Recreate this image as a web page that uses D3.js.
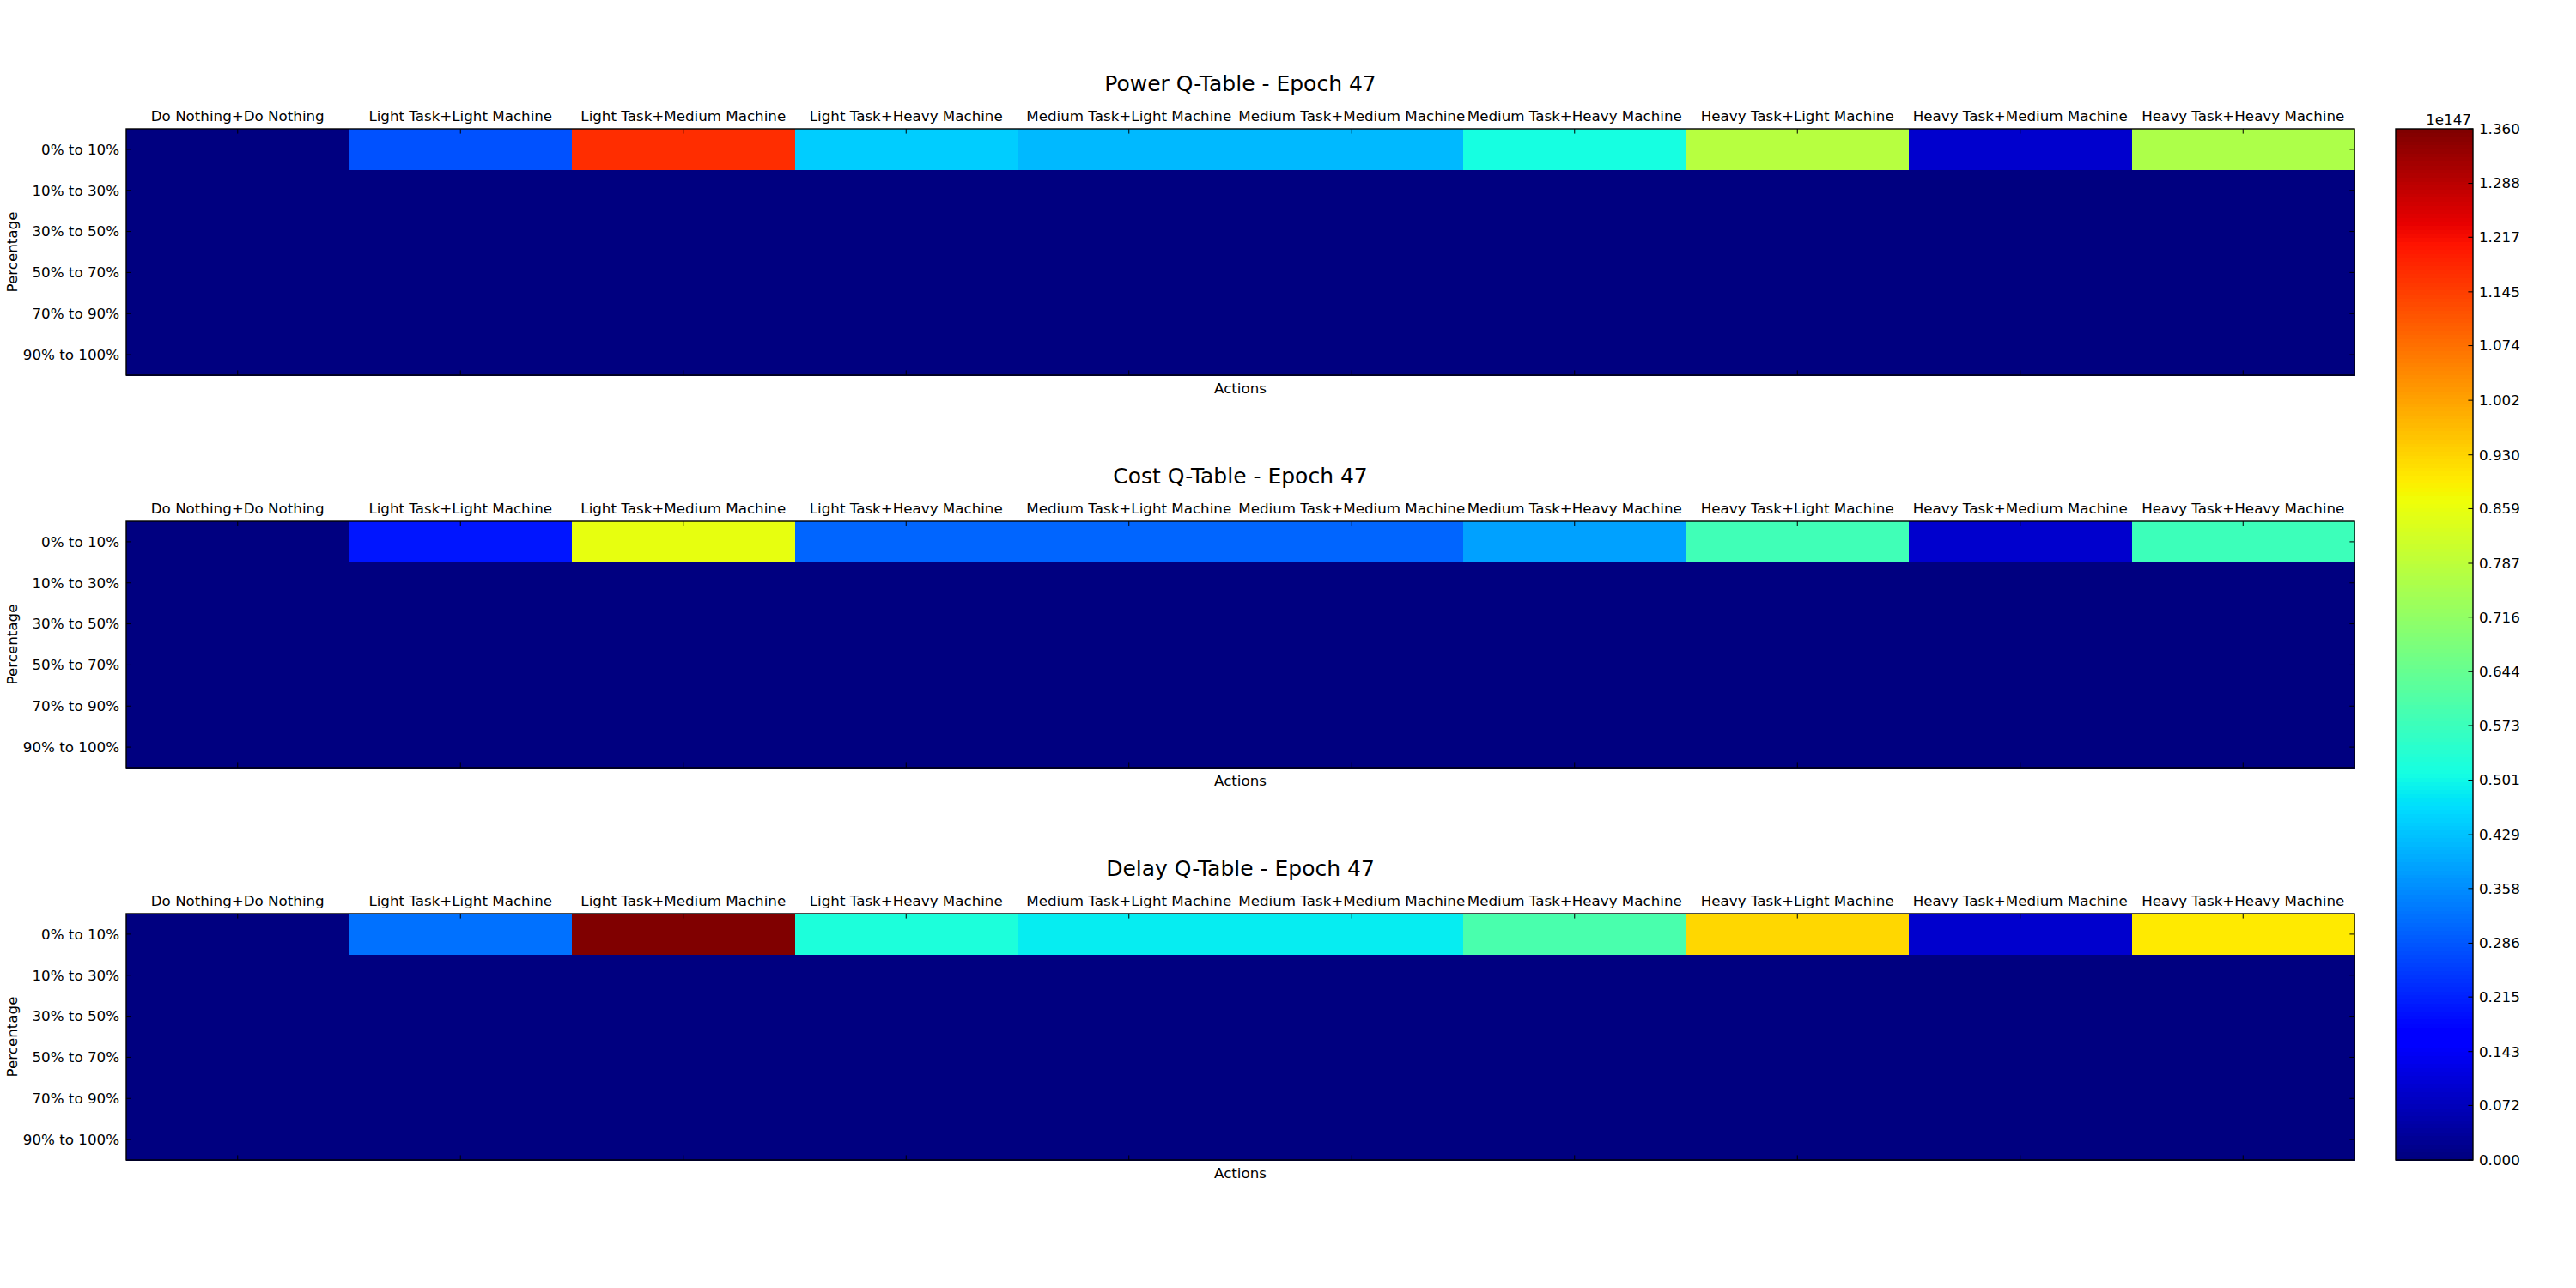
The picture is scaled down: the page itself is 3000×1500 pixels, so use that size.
<!DOCTYPE html>
<html>
<head>
<meta charset="utf-8">
<script src="https://cdn.jsdelivr.net/npm/d3@7"></script>
<style>
  html, body { margin: 0; padding: 0; background: #fff; }
  svg { display: block; font-family: "DejaVu Sans", sans-serif; }
</style>
</head>
<body>
<svg id="chart" width="3000" height="1500"></svg>
<script>
// ---------------- DATA (values in units of 1e147) ----------------
const actions = [
  "Do Nothing+Do Nothing", "Light Task+Light Machine", "Light Task+Medium Machine",
  "Light Task+Heavy Machine", "Medium Task+Light Machine", "Medium Task+Medium Machine",
  "Medium Task+Heavy Machine", "Heavy Task+Light Machine", "Heavy Task+Medium Machine",
  "Heavy Task+Heavy Machine"
];
const percentages = ["0% to 10%", "10% to 30%", "30% to 50%", "50% to 70%", "70% to 90%", "90% to 100%"];

const powerValues = [
  [0, 0.277, 1.169, 0.442, 0.418, 0.418, 0.512, 0.777, 0.091, 0.762],
  [0, 0, 0, 0, 0, 0, 0, 0, 0, 0],
  [0, 0, 0, 0, 0, 0, 0, 0, 0, 0],
  [0, 0, 0, 0, 0, 0, 0, 0, 0, 0],
  [0, 0, 0, 0, 0, 0, 0, 0, 0, 0],
  [0, 0, 0, 0, 0, 0, 0, 0, 0, 0]
];
const costValues = [
  [0, 0.197, 0.859, 0.303, 0.303, 0.303, 0.383, 0.580, 0.095, 0.575],
  [0, 0, 0, 0, 0, 0, 0, 0, 0, 0],
  [0, 0, 0, 0, 0, 0, 0, 0, 0, 0],
  [0, 0, 0, 0, 0, 0, 0, 0, 0, 0],
  [0, 0, 0, 0, 0, 0, 0, 0, 0, 0],
  [0, 0, 0, 0, 0, 0, 0, 0, 0, 0]
];
const delayValues = [
  [0, 0.319, 1.360, 0.522, 0.487, 0.487, 0.597, 0.926, 0.093, 0.900],
  [0, 0, 0, 0, 0, 0, 0, 0, 0, 0],
  [0, 0, 0, 0, 0, 0, 0, 0, 0, 0],
  [0, 0, 0, 0, 0, 0, 0, 0, 0, 0],
  [0, 0, 0, 0, 0, 0, 0, 0, 0, 0],
  [0, 0, 0, 0, 0, 0, 0, 0, 0, 0]
];
const panelTitles = ["Power Q-Table - Epoch 47", "Cost Q-Table - Epoch 47", "Delay Q-Table - Epoch 47"];
const colorMin = 0;
const colorMax = 1.36;
const colorbarTickLabels = ["0.000", "0.072", "0.143", "0.215", "0.286", "0.358", "0.429", "0.501",
  "0.573", "0.644", "0.716", "0.787", "0.859", "0.930", "1.002", "1.074", "1.145", "1.217", "1.288", "1.360"];
const colorbarExponent = "1e147";

// ---------------- JET COLORMAP (matplotlib, 256 levels) ----------------
const jetSeg = {
  r: [[0, 0], [0.35, 0], [0.66, 1], [0.89, 1], [1, 0.5]],
  g: [[0, 0], [0.125, 0], [0.375, 1], [0.64, 1], [0.91, 0], [1, 0]],
  b: [[0, 0.5], [0.11, 1], [0.34, 1], [0.65, 0], [1, 0]]
};
function segVal(seg, t) {
  for (let i = 1; i < seg.length; i++) {
    if (t <= seg[i][0]) {
      const [x0, y0] = seg[i - 1], [x1, y1] = seg[i];
      return y0 + (y1 - y0) * (t - x0) / (x1 - x0);
    }
  }
  return seg[seg.length - 1][1];
}
function jet(t) {
  t = Math.max(0, Math.min(1, t));
  const idx = Math.min(255, Math.floor(t * 256));
  const tt = idx / 255;
  return d3.rgb(
    Math.round(segVal(jetSeg.r, tt) * 255),
    Math.round(segVal(jetSeg.g, tt) * 255),
    Math.round(segVal(jetSeg.b, tt) * 255)
  ).toString();
}
const norm = d3.scaleLinear().domain([colorMin, colorMax]).range([0, 1]).clamp(true);
const color = v => jet(norm(v));

// ---------------- LAYOUT ----------------
const svg = d3.select("#chart");
svg.append("rect").attr("width", 3000).attr("height", 1500).attr("fill", "#fff");

const plotLeft = 147, plotRight = 2742;
const panelTops = [150, 607, 1064];
const panelHeight = 287;
const tickLen = 5.6;
const fontSize = 16.7;

const x = d3.scaleBand().domain(actions).range([plotLeft, plotRight]).paddingInner(0).paddingOuter(0);

const datasets = [powerValues, costValues, delayValues];

datasets.forEach((values, p) => {
  const top = panelTops[p];
  const y = d3.scaleBand().domain(percentages).range([top, top + panelHeight]);
  const g = svg.append("g");

  // cells
  const cells = [];
  values.forEach((row, ri) => row.forEach((v, ci) => cells.push({ r: percentages[ri], c: actions[ci], v })));
  g.selectAll("rect.cell").data(cells).enter().append("rect")
    .attr("class", "cell")
    .attr("x", d => x(d.c))
    .attr("y", d => y(d.r))
    .attr("width", x.bandwidth() + 0.5)
    .attr("height", y.bandwidth() + 0.5)
    .attr("fill", d => color(d.v))
    .attr("shape-rendering", "crispEdges");

  // ticks (inward) on all four sides
  const tk = g.append("g").attr("stroke", "#000").attr("stroke-width", 1);
  actions.forEach(a => {
    const cx = x(a) + x.bandwidth() / 2;
    tk.append("line").attr("x1", cx).attr("x2", cx).attr("y1", top).attr("y2", top + tickLen);
    tk.append("line").attr("x1", cx).attr("x2", cx).attr("y1", top + panelHeight).attr("y2", top + panelHeight - tickLen);
  });
  percentages.forEach(r => {
    const cy = y(r) + y.bandwidth() / 2;
    tk.append("line").attr("x1", plotLeft).attr("x2", plotLeft + tickLen).attr("y1", cy).attr("y2", cy);
    tk.append("line").attr("x1", plotRight).attr("x2", plotRight - tickLen).attr("y1", cy).attr("y2", cy);
  });

  // frame
  g.append("rect").attr("x", plotLeft).attr("y", top)
    .attr("width", plotRight - plotLeft).attr("height", panelHeight)
    .attr("fill", "none").attr("stroke", "#000").attr("stroke-width", 1.4);

  // x tick labels on top
  g.selectAll("text.xl").data(actions).enter().append("text")
    .attr("x", d => x(d) + x.bandwidth() / 2)
    .attr("y", top - 9)
    .attr("text-anchor", "middle")
    .attr("font-size", fontSize)
    .attr("fill", "#000")
    .text(d => d);

  // y tick labels
  g.selectAll("text.yl").data(percentages).enter().append("text")
    .attr("x", plotLeft - 8)
    .attr("y", d => y(d) + y.bandwidth() / 2)
    .attr("dy", "0.35em")
    .attr("text-anchor", "end")
    .attr("font-size", fontSize)
    .attr("fill", "#000")
    .text(d => d);

  // title
  g.append("text")
    .attr("x", (plotLeft + plotRight) / 2)
    .attr("y", top - 44)
    .attr("text-anchor", "middle")
    .attr("font-size", 25)
    .attr("fill", "#000")
    .text(panelTitles[p]);

  // x label
  g.append("text")
    .attr("x", (plotLeft + plotRight) / 2)
    .attr("y", top + panelHeight + 21)
    .attr("text-anchor", "middle")
    .attr("font-size", fontSize)
    .attr("fill", "#000")
    .text("Actions");

  // y label
  g.append("text")
    .attr("transform", `translate(${20},${top + panelHeight / 2}) rotate(-90)`)
    .attr("text-anchor", "middle")
    .attr("font-size", fontSize)
    .attr("fill", "#000")
    .text("Percentage");
});

// ---------------- COLORBAR ----------------
const cbLeft = 2790, cbRight = 2880, cbTop = 150, cbBottom = 1351;
const cy = d3.scaleLinear().domain([colorMin, colorMax]).range([cbBottom, cbTop]);
const levels = d3.range(256);
const cb = svg.append("g");
cb.selectAll("rect.lv").data(levels).enter().append("rect")
  .attr("x", cbLeft)
  .attr("width", cbRight - cbLeft)
  .attr("y", d => cy(colorMin + (d + 1) / 256 * (colorMax - colorMin)))
  .attr("height", (cbBottom - cbTop) / 256 + 0.6)
  .attr("fill", d => jet((d + 0.5) / 256))
  .attr("shape-rendering", "crispEdges");

const cbTickVals = colorbarTickLabels.map(s => +s);
cbTickVals.forEach((v, i) => {
  const yy = cy(i === cbTickVals.length - 1 ? colorMax : v);
  cb.append("line").attr("x1", cbRight).attr("x2", cbRight - tickLen)
    .attr("y1", yy).attr("y2", yy).attr("stroke", "#000").attr("stroke-width", 1);
  cb.append("text").attr("x", cbRight + 7).attr("y", yy).attr("dy", "0.35em")
    .attr("font-size", fontSize).attr("fill", "#000").text(colorbarTickLabels[i]);
});
cb.append("rect").attr("x", cbLeft).attr("y", cbTop)
  .attr("width", cbRight - cbLeft).attr("height", cbBottom - cbTop)
  .attr("fill", "none").attr("stroke", "#000").attr("stroke-width", 1.4);
cb.append("text").attr("x", cbRight - 2).attr("y", cbTop - 5)
  .attr("text-anchor", "end").attr("font-size", fontSize).attr("fill", "#000")
  .text(colorbarExponent);
</script>
</body>
</html>
